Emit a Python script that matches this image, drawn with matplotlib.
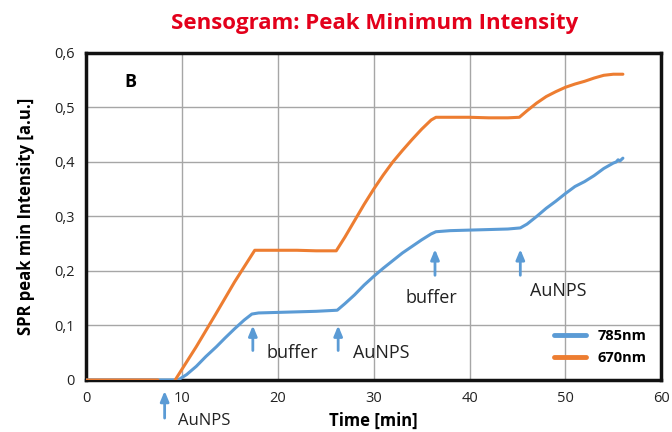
import numpy as np
import matplotlib
matplotlib.use("Agg")
import matplotlib.pyplot as plt

# ---- data ----
t_785 = [0, 7.5, 9.6, 10.5, 11.5, 12.5, 13.6, 14.5, 15.5, 16.5, 17.3, 18, 20, 22, 24, 26.2,
         27, 28, 29, 30, 31, 32, 33, 34, 35, 36, 36.5, 38, 40, 42, 44, 45.3,
         46, 47, 48, 49, 50, 51, 52, 53, 54, 55, 55.3, 55.5, 55.7, 56]
v_785 = [0, 0, 0, 0.010, 0.025, 0.043, 0.061, 0.077, 0.094, 0.110, 0.121, 0.123, 0.124, 0.125, 0.126, 0.128,
         0.140, 0.156, 0.174, 0.190, 0.205, 0.219, 0.233, 0.245, 0.257, 0.268, 0.272, 0.274, 0.275, 0.276, 0.277, 0.279,
         0.286, 0.300, 0.315, 0.328, 0.342, 0.355, 0.364, 0.375, 0.388, 0.398, 0.400, 0.404, 0.402, 0.407]

t_670 = [0, 7.5, 8.4, 9.3, 11.5, 13.5, 15.5, 17.6, 20, 22, 24, 26.1,
         27, 28, 29, 30, 31, 32, 33, 34, 35, 36, 36.5, 38, 40, 42, 44, 45.2,
         46, 47, 48, 49, 50, 51, 52, 53, 54, 55, 56]
v_670 = [0, 0, np.nan, 0, 0.061, 0.120, 0.180, 0.238, 0.238, 0.238, 0.237, 0.237,
         0.262, 0.292, 0.322, 0.350, 0.376, 0.400, 0.421, 0.441, 0.460, 0.477, 0.482, 0.482, 0.482, 0.481, 0.481, 0.482,
         0.494, 0.508, 0.520, 0.529, 0.537, 0.543, 0.548, 0.554, 0.559, 0.561, 0.561]

series_labels = ["785nm", "670nm"]
x_ticks = [0, 10, 20, 30, 40, 50, 60]
y_ticks = [0, 0.1, 0.2, 0.3, 0.4, 0.5, 0.6]
y_tick_labels = ["0", "0,1", "0,2", "0,3", "0,4", "0,5", "0,6"]

# annotations: (x, tip_y, tail_y, label, text_x, text_y, vertical alignment)
arrows = [
    (8.2, -0.015, -0.075, "AuNPS", 9.6, -0.060, 'top'),
    (17.4, 0.105, 0.049, "buffer", 18.8, 0.050, 'center'),
    (26.3, 0.105, 0.049, "AuNPS", 27.9, 0.050, 'center'),
    (36.4, 0.245, 0.187, "buffer", 33.3, 0.150, 'center'),
    (45.3, 0.245, 0.187, "AuNPS", 46.3, 0.163, 'center'),
]

BLUE = "#5B9BD5"
ORANGE = "#ED7D31"

plt.rcParams['font.family'] = ['Open Sans', 'DejaVu Sans']

fig = plt.figure(figsize=(6.72, 4.32), dpi=100)
ax = fig.add_axes([0.128, 0.1204, 0.856, 0.757])

ax.plot(t_785, v_785, color=BLUE, lw=2.2, label=series_labels[0], zorder=3, solid_capstyle='round')
ax.plot(t_670, v_670, color=ORANGE, lw=2.2, label=series_labels[1], zorder=3, solid_capstyle='round')

ax.set_xlim(0, 60)
ax.set_ylim(0, 0.6)
ax.set_xticks(x_ticks)
ax.set_yticks(y_ticks)
ax.set_yticklabels(y_tick_labels)
ax.tick_params(length=0, labelsize=10.5, labelcolor="#222222", pad=8)
ax.grid(True, color="#a6a6a6", lw=1)
ax.set_axisbelow(True)
for s in ax.spines.values():
    s.set_linewidth(2.5)
    s.set_color("#111111")

ax.set_xlabel("Time [min]", fontsize=12, fontweight='bold', labelpad=4)
ax.set_ylabel("SPR peak min Intensity [a.u.]", fontsize=12, fontweight='bold', labelpad=14)

fig.text(0.557, 0.945, "Sensogram: Peak Minimum Intensity", color="#E3001B",
         fontsize=16, fontweight='bold', ha='center', va='center')

ax.text(4.6, 0.547, "B", fontsize=13, fontweight='bold', ha='center', va='center')

for x, tip, tail, lab, tx, ty, va in arrows:
    ax.annotate("", xy=(x, tip), xytext=(x, tail),
                arrowprops=dict(arrowstyle="-|>,head_width=0.25,head_length=0.6", color=BLUE, lw=2),
                annotation_clip=False)
    ax.text(tx, ty, lab, fontsize=12 if va == 'top' else 13, ha='left', va=va,
            color="#222222", clip_on=False)

leg = ax.legend(loc='lower right', frameon=False, prop={'weight': 'bold', 'size': 10.5},
                handlelength=2.2, borderaxespad=0.6, labelspacing=0.6)
for h in leg.get_lines():
    h.set_linewidth(3.5)

fig.savefig("out.png", dpi=100)
